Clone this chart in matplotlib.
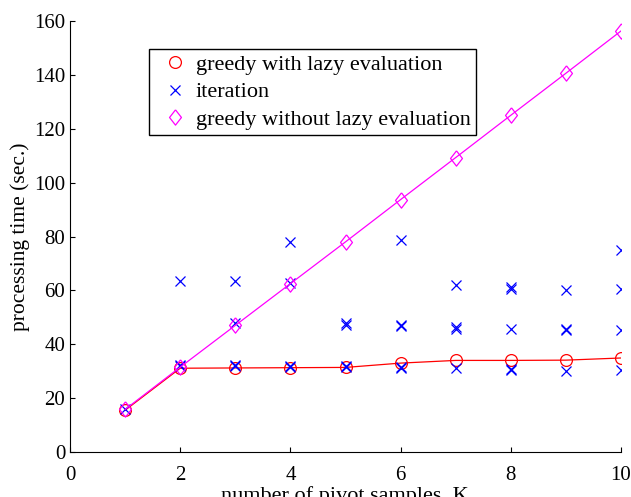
import matplotlib
matplotlib.use("Agg")
import matplotlib.pyplot as plt
from matplotlib.lines import Line2D

# processing time (sec.) versus number of pivot samples K
k = [1, 2, 3, 4, 5, 6, 7, 8, 9, 10]
t_lazy = [15.5, 31.1, 31.2, 31.3, 31.4, 33.0, 34.0, 34.0, 34.1, 34.9]
t_nolazy = [15.8, 31.5, 47.0, 62.5, 78.0, 93.7, 109.3, 125.0, 140.6, 156.3]

# iteration: several runs per K
iter_k = [1,
          2, 2, 2,
          3, 3, 3, 3,
          4, 4, 4, 4,
          5, 5, 5, 5,
          6, 6, 6, 6, 6,
          7, 7, 7, 7,
          8, 8, 8, 8, 8,
          9, 9, 9, 9,
          10, 10, 10, 10]
iter_t = [16.0,
          63.5, 31.9, 32.4,
          63.3, 47.8, 31.8, 32.2,
          78.0, 62.9, 31.5, 31.9,
          47.2, 47.8, 31.4, 31.8,
          78.7, 46.6, 47.2, 31.1, 31.5,
          62.0, 45.8, 46.3, 31.1,
          60.6, 61.1, 45.5, 30.4, 30.8,
          60.1, 45.2, 45.7, 30.2,
          75.0, 60.4, 45.3, 30.4]

xticks = [0, 2, 4, 6, 8, 10]
yticks = [0, 20, 40, 60, 80, 100, 120, 140, 160]

plt.rcParams["font.family"] = ["Liberation Serif", "DejaVu Serif"]

# matlab-like diamond (wider than matplotlib's "d")
DIAMOND = [(0, 1), (0.78, 0), (0, -1), (-0.78, 0), (0, 1)]

sty_lazy = dict(color="red", marker="o", ms=8.5, mfc="none", mew=0.9)
sty_iter = dict(color="blue", marker="x", ms=7, mew=0.9)
sty_nolazy = dict(color="magenta", marker=DIAMOND, ms=11, mfc="none", mew=0.9)

W, H = 631, 497
fig = plt.figure(figsize=(W / 100, H / 100), dpi=100)
ax = fig.add_axes([70 / W, (H - 452) / H, 551 / W, 431 / H])

ax.plot(k, t_lazy, lw=0.9, **sty_lazy)
ax.plot(iter_k, iter_t, ls="none", **sty_iter)
ax.plot(k, t_nolazy, lw=0.9, **sty_nolazy)

ax.set_xlim(0, 10)
ax.set_ylim(0, 160)
ax.set_xticks(xticks)
ax.set_yticks(yticks)
ax.spines["top"].set_visible(False)
ax.spines["right"].set_visible(False)
for s in ("left", "bottom"):
    ax.spines[s].set_linewidth(0.8)
ax.tick_params(direction="in", length=3.5, width=0.8, labelsize=15)
ax.tick_params(axis="x", pad=10)
ax.tick_params(axis="y", pad=3.5)

fig.text(345 / W, (H - 501) / H, "number of pivot samples  K",
         ha="center", va="baseline", fontsize=16)
fig.text(20 / W, (H - 237) / H, "processing time (sec.)",
         ha="center", va="center", rotation=90, fontsize=15.5)

handles = [Line2D([], [], ls="none", **sty_lazy),
           Line2D([], [], ls="none", **sty_iter),
           Line2D([], [], ls="none", **sty_nolazy)]
labels = ["greedy with lazy evaluation", "iteration", "greedy without lazy evaluation"]
leg = ax.legend(handles, labels, loc="upper left", bbox_to_anchor=(79 / 551, 403 / 431),
                borderaxespad=0, fancybox=False, framealpha=1, edgecolor="black",
                fontsize=16, handlelength=1.85, handletextpad=0.0,
                labelspacing=0.3, borderpad=0.25)
leg.get_frame().set_linewidth(1.0)

fig.savefig("out.png", dpi=100)
